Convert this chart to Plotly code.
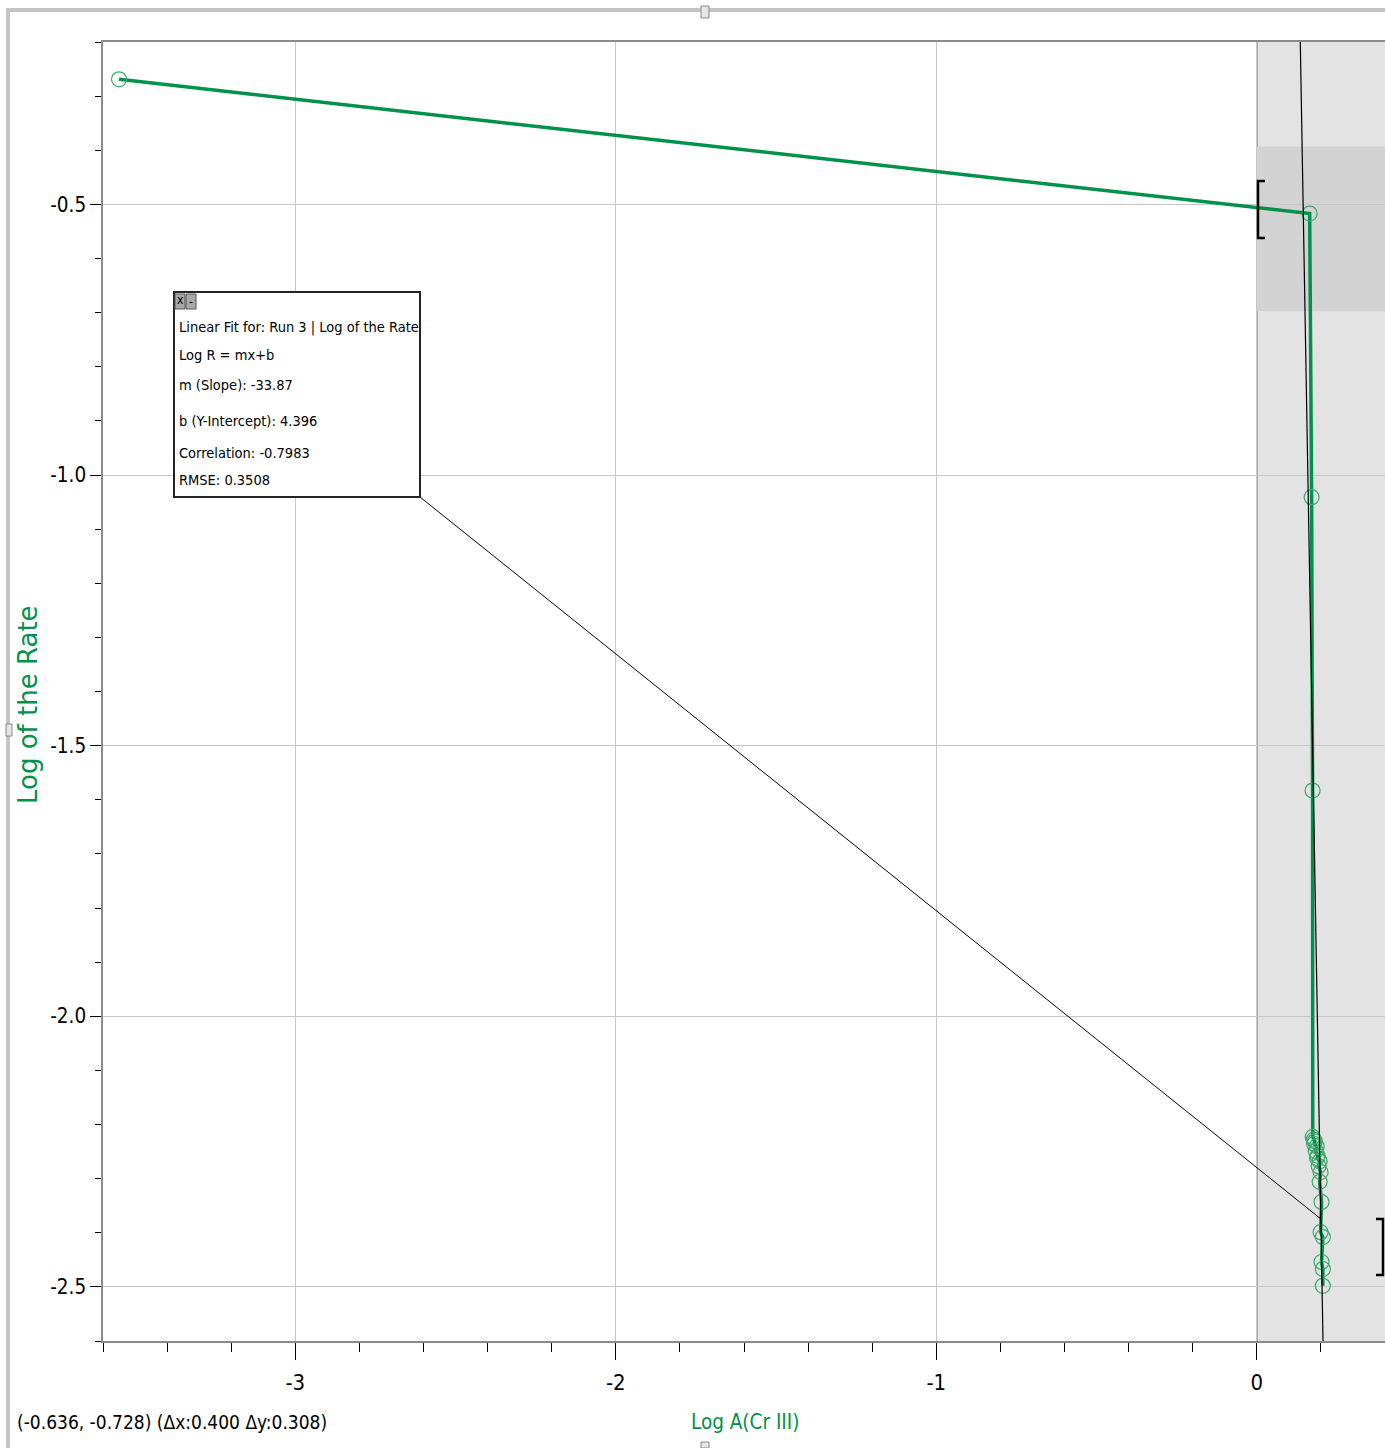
import plotly.graph_objects as go

# ---- data ----
log_a = [-3.55, 0.165, 0.171, 0.174, 0.1745, 0.178, 0.181, 0.179, 0.187, 0.184, 0.190, 0.188,
         0.196, 0.193, 0.199, 0.196, 0.202, 0.199, 0.206, 0.202, 0.206, 0.206]
log_rate = [-0.269, -0.517, -1.041, -1.583, -2.223, -2.228, -2.231, -2.236, -2.240, -2.249,
            -2.258, -2.262, -2.268, -2.277, -2.288, -2.306, -2.343, -2.399, -2.408, -2.454,
            -2.467, -2.498]

fit_slope = -33.87
fit_intercept = 4.396
fit_y_span = [-2.6, -0.2]

x_range = [-3.6, 0.4]
y_range = [-2.6, -0.2]
region_x = [0.0, 0.4]
band_y = [-0.697, -0.393]

x_tickvals = [-3, -2, -1, 0]
x_ticktext = ["-3", "-2", "-1", "0"]
y_tickvals = [-2.5, -2.0, -1.5, -1.0, -0.5]
y_ticktext = ["-2.5", "-2.0", "-1.5", "-1.0", "-0.5"]

fit_lines = [
    "Linear Fit for: Run 3 | Log of the Rate",
    "Log R = mx+b",
    "m (Slope): -33.87",
    "b (Y-Intercept): 4.396",
    "Correlation: -0.7983",
    "RMSE: 0.3508",
]
status_text = "(-0.636, -0.728) (\u0394x:0.400 \u0394y:0.308)"

GREEN = "#00914A"
MARK = "#3AAA6A"
NARROW = "DejaVu Sans Condensed, Liberation Sans Narrow, sans-serif"

W, H = 1385, 1448
L, R, T, B = 103, 0, 42, 107
PW, PH = W - L - R, H - T - B


def px(xp):
    return (xp - L) / PW


def py(yp):
    return (H - B - yp) / PH


fig = go.Figure()

# data series
fig.add_trace(go.Scatter(
    x=log_a, y=log_rate, mode="lines+markers",
    line=dict(color=GREEN, width=3.5),
    marker=dict(symbol="circle-open", size=15, color=MARK, line=dict(width=1.2, color=MARK)),
    showlegend=False, hoverinfo="skip"))

# linear fit
fit_x = [(yv - fit_intercept) / fit_slope for yv in fit_y_span]
fig.add_trace(go.Scatter(
    x=fit_x, y=fit_y_span, mode="lines",
    line=dict(color="black", width=1.2), showlegend=False, hoverinfo="skip"))

shapes = []
# selected region shading
shapes.append(dict(type="rect", xref="x", yref="paper", x0=region_x[0], x1=region_x[1], y0=0, y1=1,
                   fillcolor="#e3e3e3", line=dict(width=0), layer="below"))
shapes.append(dict(type="rect", xref="x", yref="y", x0=region_x[0], x1=region_x[1], y0=band_y[0], y1=band_y[1],
                   fillcolor="#d3d3d3", line=dict(width=0), layer="below"))
shapes.append(dict(type="line", xref="x", yref="paper", x0=region_x[0], x1=region_x[0], y0=0, y1=1,
                   line=dict(color="#7a7a7a", width=1.5), layer="below"))

# brackets
for (xa, xb, ya, yb) in [(1258, 1265, 181, 238), (1383, 1376, 1219, 1275)]:
    shapes.append(dict(type="path", xref="paper", yref="paper",
                       path=f"M {px(xb)},{py(ya)} L {px(xa)},{py(ya)} L {px(xa)},{py(yb)} L {px(xb)},{py(yb)}",
                       line=dict(color="black", width=2.5)))

# annotation box + connector
bx0, by0, bx1, by1 = 174, 292, 420, 497
conn_y = -2.3745
conn_x = (conn_y - fit_intercept) / fit_slope
shapes.append(dict(type="line", xref="paper", yref="paper", x0=px(bx1), y0=py(by1),
                   x1=px(L + (conn_x - x_range[0]) / (x_range[1] - x_range[0]) * PW),
                   y1=(conn_y - y_range[0]) / (y_range[1] - y_range[0]),
                   line=dict(color="black", width=1)))
shapes.append(dict(type="rect", xref="paper", yref="paper", x0=px(bx0), x1=px(bx1), y0=py(by1), y1=py(by0),
                   fillcolor="white", line=dict(color="#222", width=2)))
# little buttons
for (a, b) in [(175, 185), (186, 196)]:
    shapes.append(dict(type="rect", xref="paper", yref="paper", x0=px(a), x1=px(b), y0=py(309), y1=py(294),
                       fillcolor="#a8a8a8", line=dict(color="#555", width=1)))

# outer window frame
shapes.append(dict(type="rect", xref="paper", yref="paper", x0=px(8), x1=px(1385), y0=py(12), y1=py(8),
                   fillcolor="#c4c4c4", line=dict(width=0)))
shapes.append(dict(type="rect", xref="paper", yref="paper", x0=px(6), x1=px(10), y0=py(1448), y1=py(8),
                   fillcolor="#c4c4c4", line=dict(width=0)))
for (a, b, c, d) in [(701, 709, 6, 18), (6, 12, 724, 736), (701, 709, 1442, 1448)]:
    shapes.append(dict(type="rect", xref="paper", yref="paper", x0=px(a), x1=px(b), y0=py(d), y1=py(c),
                       fillcolor="#e6e6e6", line=dict(color="#888", width=1)))

annotations = []
line_y = [328, 355, 385, 421, 453, 480]
for txt, yy in zip(fit_lines, line_y):
    annotations.append(dict(text=txt, xref="paper", yref="paper", x=px(177), y=py(yy),
                            xanchor="left", yanchor="middle", showarrow=False,
                            font=dict(family=NARROW, size=14.5, color="black")))
annotations.append(dict(text="x", xref="paper", yref="paper", x=px(180), y=py(300), showarrow=False,
                        xanchor="center", yanchor="middle",
                        font=dict(family=NARROW, size=12, color="black")))
annotations.append(dict(text="-", xref="paper", yref="paper", x=px(191), y=py(302), showarrow=False,
                        xanchor="center", yanchor="middle",
                        font=dict(family=NARROW, size=12, color="black")))
annotations.append(dict(text=status_text, xref="paper", yref="paper", x=px(15), y=py(1422),
                        xanchor="left", yanchor="middle", showarrow=False,
                        font=dict(family=NARROW, size=19, color="black")))
annotations.append(dict(text="Log A(Cr III)", xref="paper", yref="paper", x=px(745), y=py(1422),
                        xanchor="center", yanchor="middle", showarrow=False,
                        font=dict(family=NARROW, size=20.5, color=GREEN)))
annotations.append(dict(text="Log of the Rate", xref="paper", yref="paper", x=px(28), y=py(705),
                        xanchor="center", yanchor="middle", showarrow=False, textangle=-90,
                        font=dict(family="DejaVu Sans, sans-serif", size=26, color=GREEN)))

fig.update_layout(
    width=W, height=H, template="none",
    margin=dict(l=L, r=R, t=T, b=B, pad=0),
    paper_bgcolor="white", plot_bgcolor="white",
    shapes=shapes, annotations=annotations, showlegend=False,
    xaxis=dict(range=x_range, tickvals=x_tickvals, ticktext=x_ticktext,
               ticks="outside", ticklen=17, tickwidth=1, tickcolor="black", ticklabelstandoff=4,
               showgrid=True, gridcolor="#c8c8c8", gridwidth=1, zeroline=False,
               showline=True, linecolor="#8a8a8a", linewidth=1.5, mirror=True,
               tickfont=dict(family=NARROW, size=22, color="black"),
               minor=dict(tick0=0, dtick=0.2, ticks="outside", ticklen=9, tickcolor="black", showgrid=False)),
    yaxis=dict(range=y_range, tickvals=y_tickvals, ticktext=y_ticktext,
               ticks="outside", ticklen=11, tickwidth=1, tickcolor="black",
               showgrid=True, gridcolor="#c8c8c8", gridwidth=1, zeroline=False,
               showline=True, linecolor="#8a8a8a", linewidth=1.5, mirror=True,
               tickfont=dict(family=NARROW, size=20.5, color="black"),
               minor=dict(tick0=0, dtick=0.1, ticks="outside", ticklen=6, tickcolor="black", showgrid=False)),
)

fig.write_html("out.html")
